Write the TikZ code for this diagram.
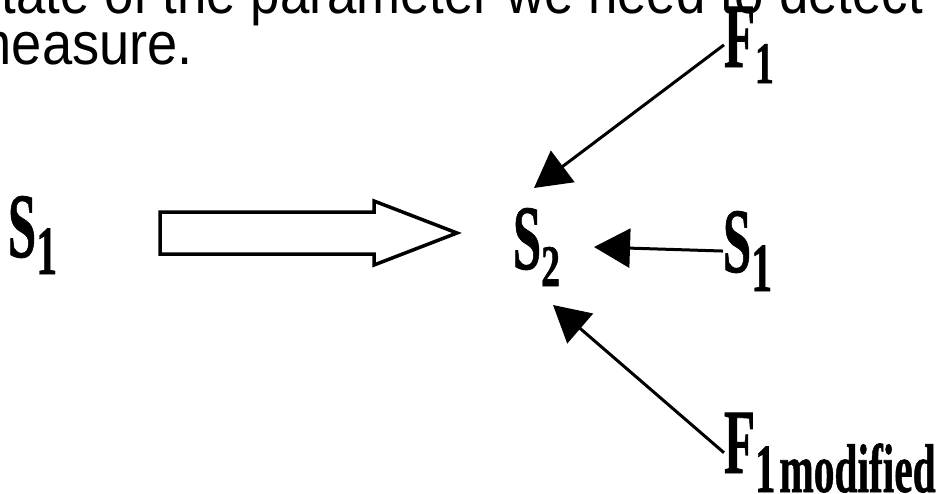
\documentclass[tikz,border=0pt]{standalone}
\usepackage{graphicx}
\usepackage{fontspec}
\setmainfont{Liberation Serif}
\newfontfamily\lblfont{Liberation Serif}[BoldFeatures={FakeBold=1}]
\newfontfamily\hdfont{Liberation Sans}
\usetikzlibrary{arrows.meta}
% #1 main letter, #2 subscript, #3 subscript size, #4 drop, #5 subscript x-scale
\newcommand{\mylbl}[5]{\scalebox{0.55}[1]{\lblfont\bfseries\fontsize{92}{92}\selectfont #1}\raisebox{-#4pt}{\scalebox{#5}[1]{\lblfont\bfseries\fontsize{#3}{#3}\selectfont\spaceskip=0.09em #2}}}
\tikzset{
  lbl/.style={inner sep=0pt, outer sep=0pt, anchor=base west},
  hd/.style={inner sep=0pt, outer sep=0pt, anchor=base east, font=\hdfont\fontsize{60}{60}\selectfont},
  conn/.style={line width=3pt, -{Triangle[length=36pt,width=39pt]}},
  blockarrow/.style={line width=3.5pt, line join=miter}
}
\begin{document}
\begin{tikzpicture}[x=1pt,y=-1pt]
\useasboundingbox (0,0) rectangle (939,493);
\clip (0,0) rectangle (939,493);
\fill[white] (0,0) rectangle (939,493);
% heading text (cut by the frame)
\node[hd] (L1) at (923,13) {\scalebox{0.88}[1]{state of the parameter we need to detect}};
\node[hd] (L2) at (193,64) {\scalebox{0.905}[1]{measure.}};
% labels
\node[lbl] (S1L) at (8,257) {\mylbl{S}{1}{69}{17}{0.61}};
\node[lbl] (S2) at (513,269) {\mylbl{S}{2}{59}{17}{0.64}};
\node[lbl] (S1R) at (723,272) {\mylbl{S}{1}{69}{19}{0.61}};
\node[lbl] (F1) at (724,67) {\mylbl{F}{1}{59}{16}{0.64}};
\node[lbl] (F1m) at (724,473) {\mylbl{F}{1 modified}{69}{19}{0.6}};
% hollow block arrow
\draw[blockarrow] (160,212) -- (374,212) -- (374,201) -- (457,233) -- (374,265) -- (374,254) -- (160,254) -- cycle;
% arrow tips near S2
\coordinate (tA) at (534,188);
\coordinate (tB) at (594,247);
\coordinate (tC) at (553,305);
\draw[conn] (F1.west) -- (tA);
\draw[conn] (S1R.west) -- (tB);
\draw[conn] (F1m.west) -- (tC);
\end{tikzpicture}
\end{document}
